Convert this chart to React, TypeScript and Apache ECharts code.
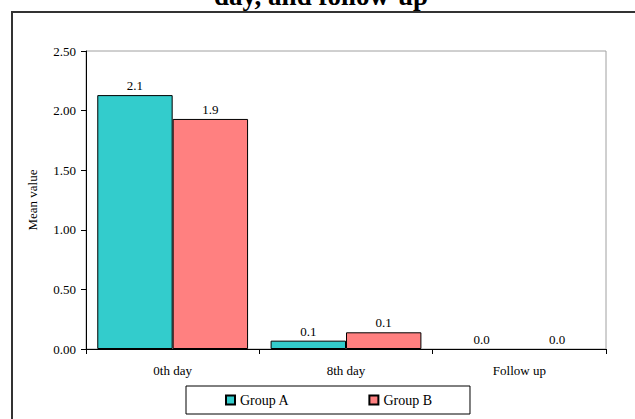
import React, { useEffect, useRef } from "react";
import * as echarts from "echarts";

const categories = ["0th day", "8th day", "Follow up"];
const groupA = [2.13, 0.07, 0.0];
const groupB = [1.93, 0.14, 0.0];
const yTicks = { min: 0, max: 2.5, interval: 0.5 };
const titleText = "day, and follow-up";

const FONT = "'Liberation Serif', 'Times New Roman', serif";

// Zero-height bars get no outline, so nothing is drawn for them.
const toBarData = (values: number[]) =>
  values.map((v) => (v === 0 ? { value: v, itemStyle: { borderWidth: 0 } } : v));

export default function App() {
  const ref = useRef<HTMLDivElement>(null);

  useEffect(() => {
    if (!ref.current) return;
    const chart = echarts.init(ref.current, null, { renderer: "svg" });

    const labelStyle = {
      show: true,
      position: "top" as const,
      distance: 3,
      fontFamily: FONT,
      fontSize: 13,
      color: "#000",
      formatter: (p: any) => Number(p.value).toFixed(1),
    };

    chart.setOption({
      animation: false,
      backgroundColor: "#fff",
      textStyle: { fontFamily: FONT },
      graphic: [
        {
          type: "rect",
          shape: { x: 12, y: 12, width: 640, height: 420 },
          style: { fill: "none", stroke: "#333", lineWidth: 2 },
          silent: true,
        },
        {
          type: "text",
          x: 321,
          y: 9,
          style: {
            text: titleText,
            fontFamily: FONT,
            fontWeight: "bold",
            fontSize: 27,
            fill: "#000",
            align: "center",
            verticalAlign: "bottom",
          },
        },
      ],
      grid: {
        left: 86,
        right: 29,
        top: 51,
        bottom: 70,
        show: true,
        borderColor: "#a0a0a0",
        borderWidth: 1,
        backgroundColor: "transparent",
      },
      legend: {
        data: ["Group A", "Group B"],
        left: 186,
        top: 386,
        orient: "horizontal",
        icon: "rect",
        itemWidth: 9,
        itemHeight: 9,
        itemGap: 79,
        padding: [7, 38, 7, 39],
        borderColor: "#000",
        borderWidth: 1,
        textStyle: { fontFamily: FONT, fontSize: 14, color: "#000" },
      },
      xAxis: {
        type: "category",
        data: categories,
        axisLine: { lineStyle: { color: "#000", width: 1 } },
        axisTick: { show: true, length: 5, lineStyle: { color: "#000" } },
        axisLabel: { fontFamily: FONT, fontSize: 13, color: "#000", margin: 15 },
        splitLine: { show: false },
      },
      yAxis: {
        type: "value",
        min: yTicks.min,
        max: yTicks.max,
        interval: yTicks.interval,
        name: "Mean value",
        nameLocation: "middle",
        nameGap: 47,
        nameTextStyle: { fontFamily: FONT, fontSize: 13, color: "#000" },
        axisLine: { show: true, lineStyle: { color: "#000", width: 1 } },
        axisTick: { show: true, length: 5, lineStyle: { color: "#000" } },
        axisLabel: {
          fontFamily: FONT,
          fontSize: 13,
          color: "#000",
          margin: 10,
          formatter: (v: number) => v.toFixed(2),
        },
        splitLine: { show: false },
      },
      series: [
        {
          name: "Group A",
          type: "bar",
          data: toBarData(groupA),
          barGap: "0%",
          barCategoryGap: "13%",
          itemStyle: { color: "#33CCCC", borderColor: "#000", borderWidth: 1 },
          label: labelStyle,
        },
        {
          name: "Group B",
          type: "bar",
          data: toBarData(groupB),
          barGap: "0%",
          barCategoryGap: "13%",
          itemStyle: { color: "#FF8080", borderColor: "#000", borderWidth: 1 },
          label: labelStyle,
        },
      ],
    });

    return () => chart.dispose();
  }, []);

  return (
    <div
      ref={ref}
      style={{ position: "fixed", left: 0, top: 0, width: 635, height: 419 }}
    />
  );
}
